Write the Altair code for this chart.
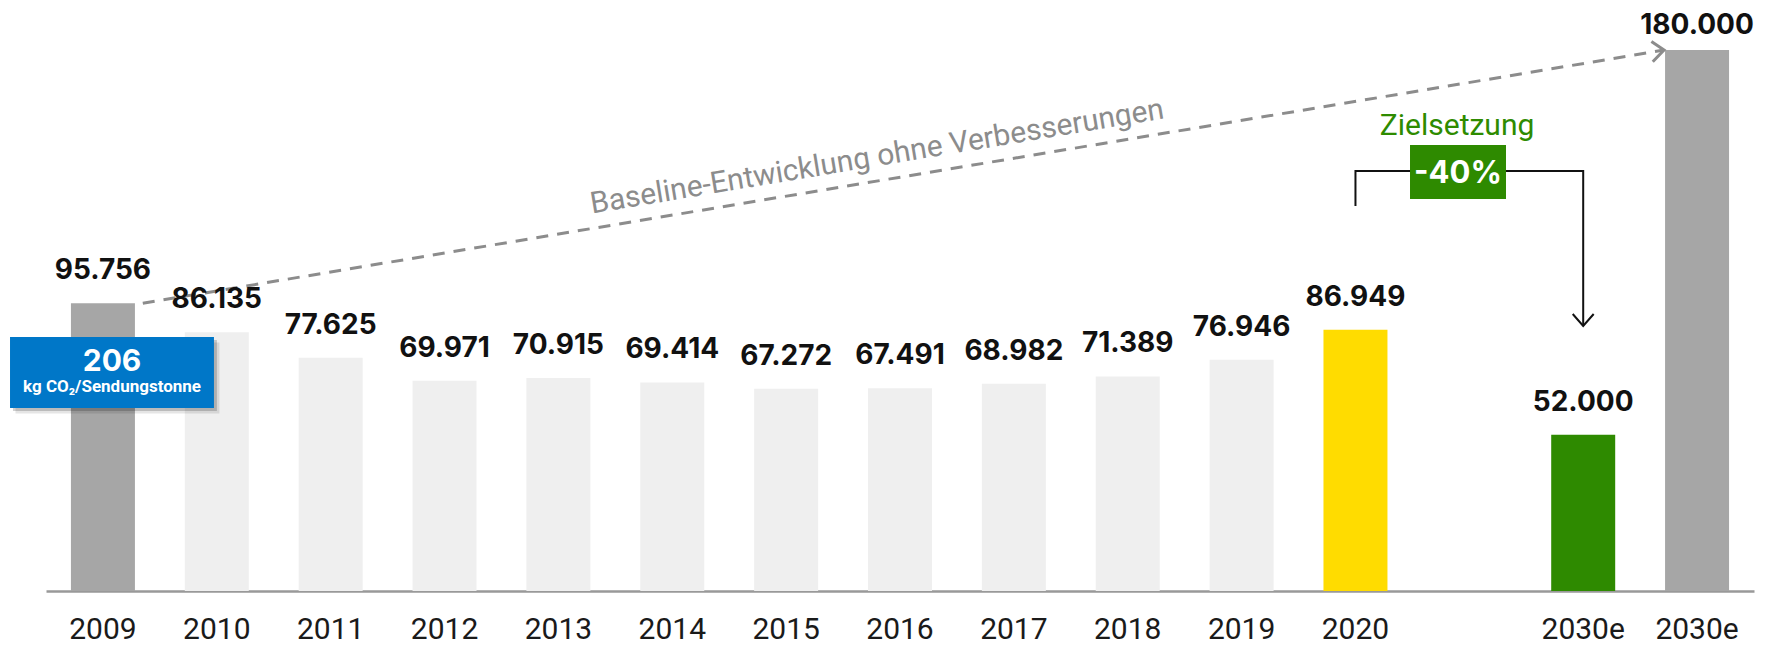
import altair as alt
import pandas as pd

# ---------------- data ----------------
years = ["2009", "2010", "2011", "2012", "2013", "2014", "2015", "2016",
         "2017", "2018", "2019", "2020", "2030e", "2030e"]
values = [95756, 86135, 77625, 69971, 70915, 69414, 67272, 67491,
          68982, 71389, 76946, 86949, 52000, 180000]
kinds = ["Basisjahr"] + ["Ist"] * 10 + ["Aktuell", "Ziel", "Baseline"]
kind_names = ["Basisjahr", "Ist", "Aktuell", "Ziel", "Baseline"]
kind_colors = ["#A6A6A6", "#EFEFEF", "#FFDC00", "#2E8A00", "#A6A6A6"]

baseline_text = "Baseline-Entwicklung ohne Verbesserungen"
target_title = "Zielsetzung"
target_text = "-40%"
box_value = "206"
box_unit = "kg CO\u2082/Sendungstonne"

# unique category keys (two "2030e" bars) and an empty slot before 2030e
keys = [y if i < 12 else f"{y}{i - 11}" for i, y in enumerate(years)]
domain = keys[:12] + [" "] + keys[12:]
n_slots = len(domain)
y_max = 194000

df = pd.DataFrame({"key": keys, "year": years, "value": values, "kind": kinds})

# annotation anchors (x in category-slot units, y in data units)
dash_df = pd.DataFrame({"s": [0.85, 14.21], "v": [values[0], values[-1]], "o": [0, 1]})
dash_head = pd.DataFrame({"s": [14.099, 14.21, 14.111],
                          "v": [182862, values[-1], 176107], "o": [0, 1, 2]})
bracket = pd.DataFrame({"s": [11.5, 11.5, 13.5, 13.5],
                        "v": [128100, 139760, 139760, 88180], "o": [0, 1, 2, 3]})
bracket_head = pd.DataFrame({"s": [13.408, 13.5, 13.592],
                             "v": [92173, 88180, 92173], "o": [0, 1, 2]})
green_box = pd.DataFrame({"s": [11.979], "s2": [12.822], "v": [130442], "v2": [148413]})
green_txt = pd.DataFrame({"s": [12.4], "v": [138761], "t": [target_text]})
ziel_txt = pd.DataFrame({"s": [12.392], "v": [151739], "t": [target_title]})
base_txt = pd.DataFrame({"s": [7.298], "v": [144418], "t": [baseline_text]})
blue_box = pd.DataFrame({"s": [-0.316], "s2": [1.475], "v": [60895], "v2": [84521]})
shadow1 = pd.DataFrame({"s": [-0.316 + 0.026], "s2": [1.475 + 0.026],
                        "v": [60895 - 1000], "v2": [84521 - 1000]})
shadow2 = pd.DataFrame({"s": [-0.316 + 0.048], "s2": [1.475 + 0.048],
                        "v": [60895 - 1800], "v2": [84521 - 1800]})
box_val_txt = pd.DataFrame({"s": [0.58], "v": [73207], "t": [box_value]})
box_unit_txt = pd.DataFrame({"s": [0.58], "v": [66219], "t": [box_unit]})

# ---------------- encodings ----------------
yscale = alt.Scale(domain=[0, y_max], nice=False, zero=True)
bandscale = alt.Scale(domain=domain, paddingInner=0.438, paddingOuter=0.219)


def XS(f="s"):
    return alt.X(f"{f}:Q", scale=alt.Scale(domain=[0, n_slots], nice=False, zero=False), axis=None)


def YS(f="v"):
    return alt.Y(f"{f}:Q", scale=yscale, axis=None)


xband = alt.X(
    "key:N",
    scale=bandscale,
    axis=alt.Axis(
        labelExpr="slice(datum.label, 0, 5)",
        labelFont="Roboto", labelFontSize=30, labelColor="#1A1A1A",
        labelBaseline="alphabetic", labelPadding=47, labelAngle=0,
        ticks=False, tickSize=0, domainColor="#999999", domainWidth=2.5,
        grid=False, title=None, labelOverlap=False,
    ),
)
xband_plain = alt.X("key:N", scale=bandscale, axis=None)

bars = alt.Chart(df).mark_bar().encode(
    x=xband,
    y=alt.Y("value:Q", scale=yscale, axis=None),
    color=alt.Color("kind:N", scale=alt.Scale(domain=kind_names, range=kind_colors), legend=None),
)

lab_calc = "replace(format(datum.value, ',.0f'), ',', '.')"
labels = alt.Chart(df).transform_filter("datum.kind != 'Baseline'").transform_calculate(
    label=lab_calc
).mark_text(font="Inter", fontWeight="bold", fontSize=28, dy=-24, color="#111111",
            baseline="alphabetic").encode(
    x=xband_plain, y=alt.Y("value:Q", scale=yscale, axis=None), text="label:N"
)
labels_top = alt.Chart(df).transform_filter("datum.kind == 'Baseline'").transform_calculate(
    label=lab_calc
).mark_text(font="Inter", fontWeight="bold", fontSize=28, dy=-16, color="#111111",
            baseline="alphabetic").encode(
    x=xband_plain, y=alt.Y("value:Q", scale=yscale, axis=None), text="label:N"
)

dash = alt.Chart(dash_df).mark_line(strokeDash=[12, 9], strokeWidth=3, color="#8C8C8C").encode(
    x=XS(), y=YS(), order="o:Q")
dash_arrow = alt.Chart(dash_head).mark_line(strokeWidth=3, color="#8C8C8C").encode(
    x=XS(), y=YS(), order="o:Q")
base_label = alt.Chart(base_txt).mark_text(
    font="Roboto", fontSize=30, color="#8C8C8C", angle=350.55, baseline="middle"
).encode(x=XS(), y=YS(), text="t:N")

br = alt.Chart(bracket).mark_line(strokeWidth=2, color="#111111").encode(
    x=XS(), y=YS(), order="o:Q")
br_head = alt.Chart(bracket_head).mark_line(strokeWidth=2, color="#111111").encode(
    x=XS(), y=YS(), order="o:Q")
gbox = alt.Chart(green_box).mark_rect(color="#2E8A00").encode(
    x=XS(), x2="s2:Q", y=YS(), y2="v2:Q")
gtxt = alt.Chart(green_txt).mark_text(
    font="Inter", fontWeight="bold", fontSize=31, color="white", baseline="middle"
).encode(x=XS(), y=YS(), text="t:N")
ztxt = alt.Chart(ziel_txt).mark_text(font="Roboto", fontSize=30, color="#2E8B00",
                                     baseline="alphabetic").encode(
    x=XS(), y=YS(), text="t:N")

sh2 = alt.Chart(shadow2).mark_rect(color="#000000", opacity=0.10).encode(
    x=XS(), x2="s2:Q", y=YS(), y2="v2:Q")
sh1 = alt.Chart(shadow1).mark_rect(color="#000000", opacity=0.18).encode(
    x=XS(), x2="s2:Q", y=YS(), y2="v2:Q")
bbox = alt.Chart(blue_box).mark_rect(color="#0077C8").encode(
    x=XS(), x2="s2:Q", y=YS(), y2="v2:Q")
bval = alt.Chart(box_val_txt).mark_text(
    font="Inter", fontWeight="bold", fontSize=30, color="white", baseline="alphabetic"
).encode(x=XS(), y=YS(), text="t:N")
bunit = alt.Chart(box_unit_txt).mark_text(
    font="Roboto", fontWeight="bold", fontSize=17, color="white", baseline="alphabetic"
).encode(x=XS(), y=YS(), text="t:N")

chart = alt.layer(
    bars, dash, dash_arrow, labels, labels_top, base_label,
    br, br_head, gbox, gtxt, ztxt, sh2, sh1, bbox, bval, bunit,
).resolve_scale(x="independent").properties(
    width=1708, height=583,
    padding={"left": 38, "top": 0, "right": 9, "bottom": 48},
    autosize=alt.AutoSizeParams(type="none"),
    background="white",
).configure_view(stroke=None)

chart.save("out.html", embed_options={"renderer": "svg", "actions": False})
